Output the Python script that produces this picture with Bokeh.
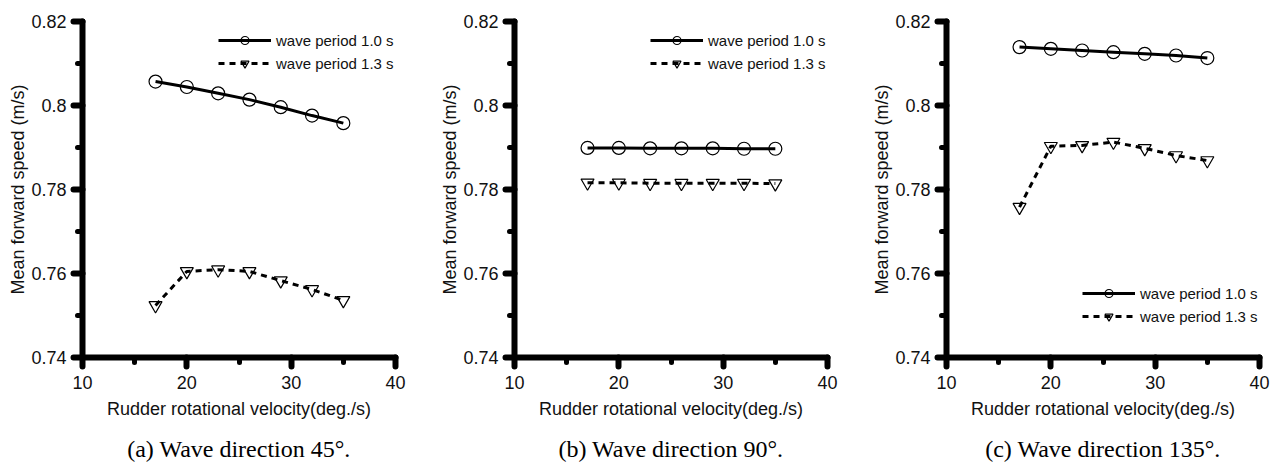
from bokeh.plotting import figure
from bokeh.layouts import row
from bokeh.models import Range1d, FixedTicker, Legend, LegendItem, LinearAxis
from bokeh.embed import file_html
from bokeh.resources import INLINE

# ---------------- data ----------------
rudder_velocity = [17, 20, 23, 26, 29, 32, 35]

speed_45_T10 = [0.8057, 0.8044, 0.8029, 0.8014, 0.7996, 0.7976, 0.7958]
speed_45_T13 = [0.7524, 0.7605, 0.7609, 0.7605, 0.7583, 0.7562, 0.7536]

speed_90_T10 = [0.7899, 0.7899, 0.7898, 0.7898, 0.7898, 0.7897, 0.7897]
speed_90_T13 = [0.7816, 0.7816, 0.7815, 0.7815, 0.7815, 0.7815, 0.7814]

speed_135_T10 = [0.8139, 0.8135, 0.8131, 0.8127, 0.8123, 0.8119, 0.8113]
speed_135_T13 = [0.7758, 0.7903, 0.7905, 0.7913, 0.7898, 0.7881, 0.7869]

x_ticks = [10, 20, 30, 40]
x_minor_ticks = [15, 25, 35]
y_ticks = [0.74, 0.76, 0.78, 0.80, 0.82]
y_tick_labels = ["0.74", "0.76", "0.78", "0.8", "0.82"]
y_minor_ticks = [0.75, 0.77, 0.79, 0.81]

series_labels = ["wave period 1.0 s", "wave period 1.3 s"]
captions = ["(a) Wave direction 45\u00b0.", "(b) Wave direction 90\u00b0.",
            "(c) Wave direction 135\u00b0."]
x_label = "Rudder rotational velocity(deg./s)"
y_label = "Mean forward speed (m/s)"

SANS = "Liberation Sans"
SERIF = "Liberation Serif"


def make_panel(t10, t13, caption, b_left, f_width, b_right, legend_loc):
    p = figure(width=b_left + f_width + b_right, height=464,
               min_border_left=b_left, min_border_right=b_right,
               min_border_top=21, min_border_bottom=107,
               x_range=Range1d(10, 40), y_range=Range1d(0.74, 0.82),
               output_backend="svg", toolbar_location=None,
               background_fill_color="white", border_fill_color="white")
    p.outline_line_color = None
    p.grid.visible = False

    p.xaxis.ticker = FixedTicker(ticks=x_ticks, minor_ticks=x_minor_ticks)
    p.yaxis.ticker = FixedTicker(ticks=y_ticks, minor_ticks=y_minor_ticks)
    p.yaxis.major_label_overrides = {v: s for v, s in zip(y_ticks, y_tick_labels)}
    p.xaxis.axis_label = x_label
    p.yaxis.axis_label = y_label

    for ax in (p.xaxis, p.yaxis):
        ax.axis_line_width = 6
        ax.axis_line_color = "black"
        ax.axis_line_cap = "round"
        ax.major_tick_line_width = 6
        ax.major_tick_line_cap = "round"
        ax.major_tick_line_color = "black"
        ax.major_tick_out = 9
        ax.major_tick_in = 0
        ax.minor_tick_line_width = 5
        ax.minor_tick_line_cap = "round"
        ax.minor_tick_line_color = "black"
        ax.minor_tick_out = 5
        ax.minor_tick_in = 0
        ax.major_label_text_font = SANS
        ax.major_label_text_font_size = "18px"
        ax.major_label_text_color = "#111111"
        ax.axis_label_text_font = SANS
        ax.axis_label_text_font_size = "18px"
        ax.axis_label_text_font_style = "normal"
        ax.axis_label_text_color = "#111111"
    p.xaxis.major_label_standoff = 9
    p.xaxis.axis_label_standoff = 7
    p.yaxis.major_label_standoff = 7
    p.yaxis.axis_label_standoff = 0

    # caption below the x axis label (an axis without ticks, used for its label)
    cap = LinearAxis(ticker=FixedTicker(ticks=[]), axis_label=caption,
                     axis_line_color=None, major_tick_line_color=None,
                     minor_tick_line_color=None, major_tick_out=0,
                     minor_tick_out=0, major_label_standoff=0,
                     axis_label_standoff=14, axis_label_text_font=SERIF,
                     axis_label_text_font_size="24px",
                     axis_label_text_font_style="normal",
                     axis_label_text_color="black")
    p.add_layout(cap, "below")

    l1 = p.line(rudder_velocity, t10, line_color="black", line_width=3)
    s1 = p.scatter(rudder_velocity, t10, marker="circle", size=13,
                   fill_color=None, line_color="black", line_width=1.2)
    l2 = p.line(rudder_velocity, t13, line_color="black", line_width=3,
                line_dash="6 5")
    s2 = p.scatter(rudder_velocity, t13, marker="inverted_triangle", size=13,
                   fill_color=None, line_color="black", line_width=1.2)

    legend = Legend(items=[LegendItem(label=series_labels[0], renderers=[l1, s1]),
                           LegendItem(label=series_labels[1], renderers=[l2, s2])],
                    location=legend_loc)
    legend.label_text_font = SANS
    legend.label_text_font_size = "15px"
    legend.label_text_color = "#111111"
    legend.glyph_width = 53
    legend.glyph_height = 20
    legend.label_height = 20
    legend.label_standoff = 5
    legend.spacing = 3
    legend.padding = 0
    legend.margin = 0
    legend.border_line_alpha = 0
    legend.background_fill_alpha = 0
    p.add_layout(legend)
    return p


pa = make_panel(speed_45_T10, speed_45_T13, captions[0], 82, 313, 37, (136, 284))
pb = make_panel(speed_90_T10, speed_90_T13, captions[1], 82, 313, 37, (136, 284))
pc = make_panel(speed_135_T10, speed_135_T13, captions[2], 82, 313, 17, (136, 31))

layout = row(pa, pb, pc)
open("out.html", "w").write(file_html(layout, INLINE))
